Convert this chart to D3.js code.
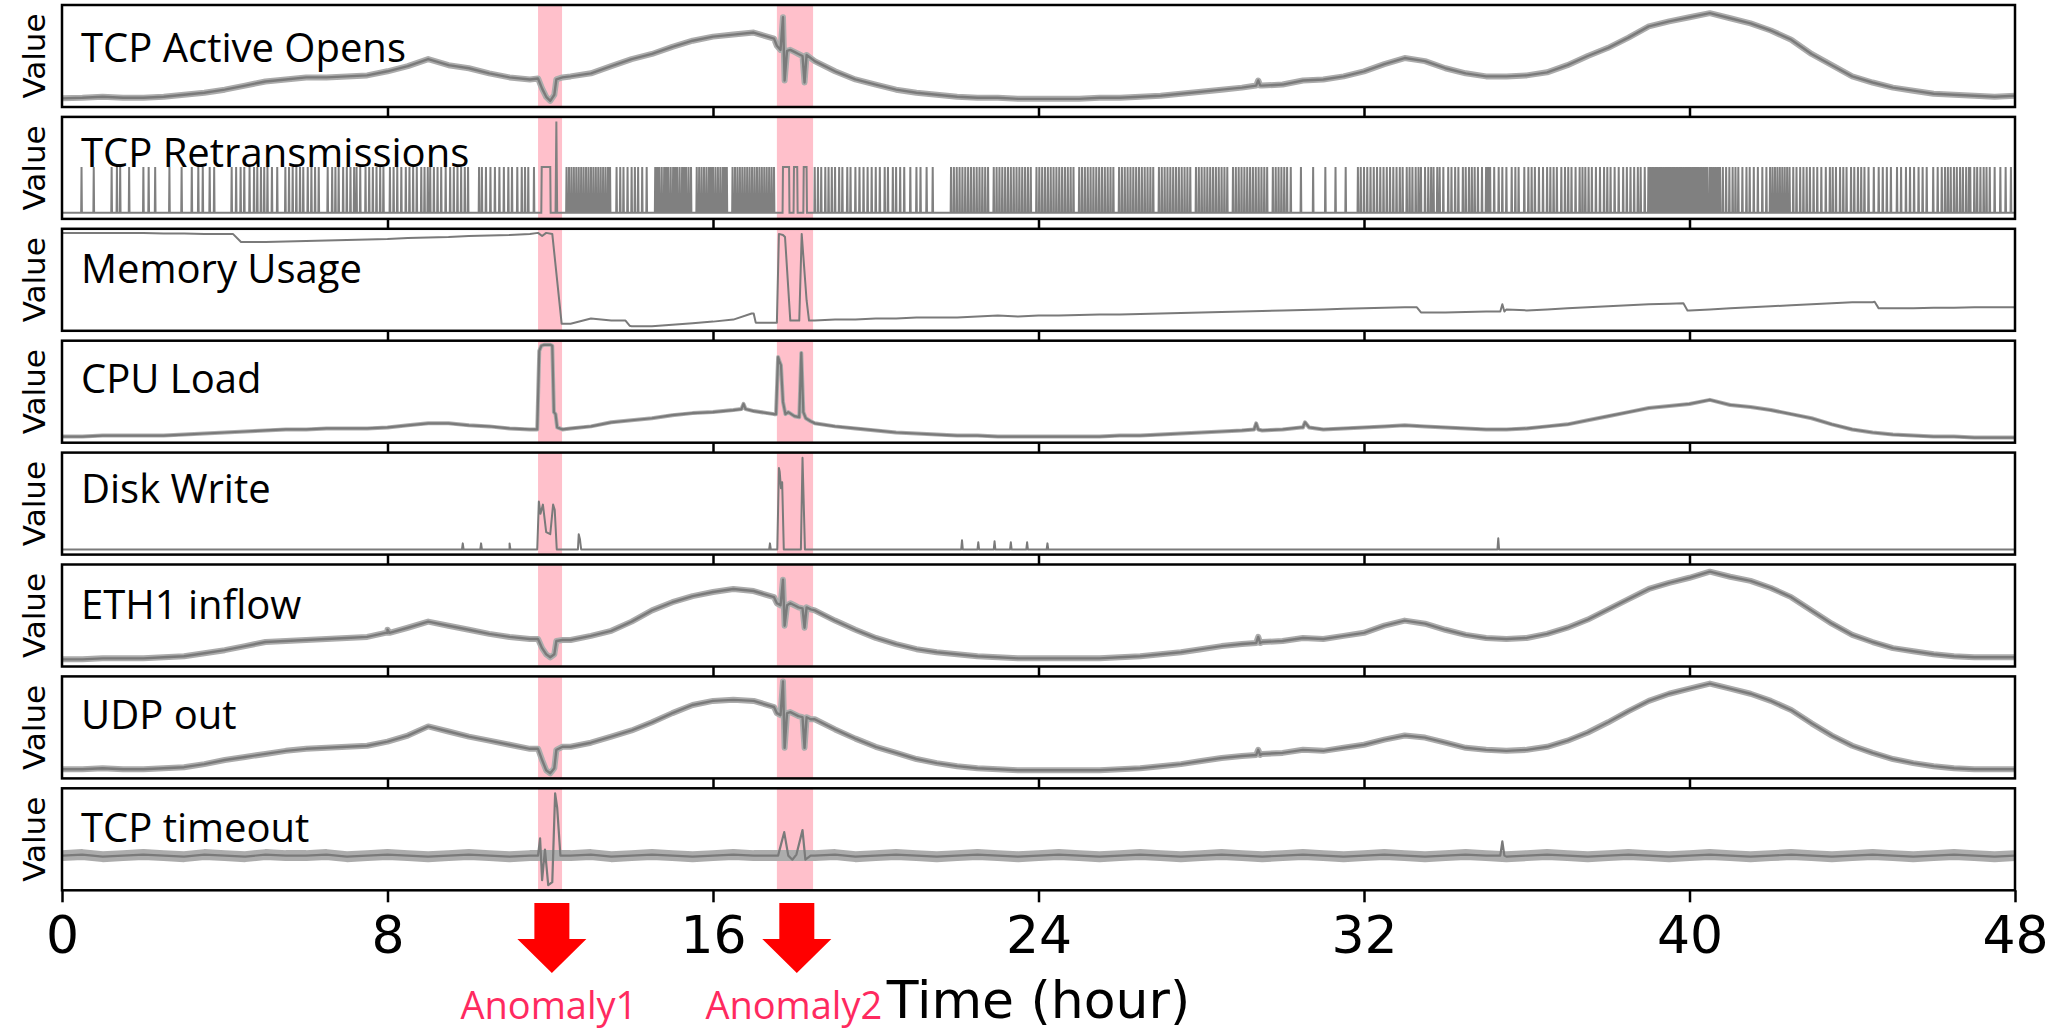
<!DOCTYPE html>
<html lang="en">
<head>
<meta charset="utf-8">
<title>metrics with anomalies</title>
<script src="https://d3js.org/d3.v7.min.js"></script>
<style>
  body { margin: 0; background: #fff; }
  svg { display: block; }
  .title { font-family: "Open Sans", sans-serif; font-size: 40px; fill: #000; }
  .ylab { font-family: "DejaVu Sans", sans-serif; font-size: 31px; fill: #000; }
  .tlab { font-family: "DejaVu Sans", sans-serif; font-size: 52px; fill: #000; }
  .alab { font-family: "Open Sans", sans-serif; font-size: 38px; fill: #ff2a5f; }
</style>
</head>
<body>
<svg id="chart" width="2061" height="1031"></svg>
<script>
// ---- data (values are % of panel height) ----
const hours = d3.range(0, 48.01, 0.5);
const panelNames = ["TCP Active Opens", "TCP Retransmissions", "Memory Usage", "CPU Load",
                    "Disk Write", "ETH1 inflow", "UDP out", "TCP timeout"];
const tickHours = [0, 8, 16, 24, 32, 40, 48];
const anomalyStart = [11.7, 17.57];
const anomalyEnd = [12.29, 18.46];
const arrowAt = [12.04, 18.06];
const anomalyLabels = ["Anomaly1", "Anomaly2"];

const opensBase = [8.5,9,10,9,9,10,12,14,17,21,25,27,29,29,30,31,35,40,47,41,38,33,29,27,null,30,33,40,47,52,59,65,69,71,73,67,null,45,35,27,22,17,14,12,10,9,9,8,8,8,8,9,9,10,11,13,15,17,19,21,22,26,27,30,35,42,48,45,38,33,30,30,31,34,41,50,58,68,79,84,88,92,87,82,75,66,52,41,30,24,19,16,13,12,11,10,11];
const opensEvents = [[11.7,28],[11.8,18],[11.9,10],[12.0,6],[12.1,12],[12.15,27],[12.3,29],
  [17.57,60],[17.66,56],[17.72,88],[17.76,26],[17.82,55],[17.9,56],[18.0,54],[18.1,52],[18.2,50],[18.25,24],[18.3,51],[18.4,48],
  [29.35,21],[29.4,26],[29.45,21]];

const ethBase = [7,7,8,8,8,9,10,13,16,20,24,25,26,27,28,29,33,38,44,40,36,32,29,27,null,26,30,35,44,55,63,69,73,76,74,68,null,55,45,36,28,22,17,14,12,10,9,8,8,8,8,8,9,10,12,14,17,20,22,24,25,28,27,30,33,40,45,42,36,31,28,27,28,32,38,46,56,66,76,82,87,93,88,84,77,68,55,42,31,24,18,15,12,10,9,9,9];
const ethEvents = [[7.95,33],[8.0,36],[8.05,33],[11.7,27],[11.8,18],[11.9,12],[12.0,9],[12.1,12],[12.15,25],[12.3,26],
  [17.57,62],[17.66,60],[17.72,85],[17.76,40],[17.82,60],[17.9,62],[18.0,60],[18.1,58],[18.2,57],[18.25,38],[18.3,58],[18.4,56],
  [29.35,23],[29.4,29],[29.45,23]];

const udpBase = [9,9,10,9,9,10,11,14,18,21,24,27,29,30,31,32,36,42,51,46,41,37,33,29,null,31,35,41,47,55,64,72,76,77,76,70,null,58,48,39,31,25,19,15,12,10,9,8,8,8,8,8,9,10,12,14,17,20,22,24,25,28,27,30,33,38,42,40,35,30,28,27,28,31,37,45,55,66,76,83,88,93,88,83,76,67,54,42,32,25,19,15,12,10,9,9,9];
const udpEvents = [[11.7,29],[11.8,18],[11.9,8],[12.0,5],[12.1,10],[12.15,28],[12.3,31],
  [17.57,64],[17.66,62],[17.72,95],[17.76,30],[17.82,64],[17.9,65],[18.0,63],[18.1,61],[18.2,60],[18.25,30],[18.3,60],[18.4,58],
  [29.35,23],[29.4,28],[29.45,23]];

const cpuBase = [6,6,7,7,7,7,8,9,10,11,12,13,13,14,14,14,15,17,19,19,17,16,14,13,null,14,16,20,22,24,27,29,30,32,31,28,null,19,16,14,12,10,9,8,7,7,6,6,6,6,6,6,7,7,8,9,10,11,12,12,13,15,13,14,15,16,17,16,15,14,13,13,14,16,18,22,26,30,34,36,38,42,37,35,32,28,24,18,13,10,8,7,6,6,5,5,5];
const cpuEvents = [[11.68,13],[11.73,90],[11.78,95],[11.85,96],[12.0,96],[12.05,95],[12.09,30],[12.13,28],[12.17,15],[12.3,13],
  [16.7,33],[16.75,38],[16.8,33],
  [17.55,28],[17.6,84],[17.63,80],[17.67,76],[17.72,40],[17.78,28],[17.85,30],[18.0,26],[18.12,25],[18.17,88],[18.22,30],[18.28,24],[18.4,21],
  [29.3,13],[29.35,19],[29.4,13],[30.45,15],[30.55,20],[30.65,15]];

const memBase = [96,96,96,96,96,95.5,95.5,95,95,87,87,87.5,88,88.5,89,89.5,90,91,91.5,92,93,93.5,94,95,null,7,12,10,4.5,4.5,6,7.5,9,11,17,8,null,10,11,11,12,12,13,13,13,14,15,14,15,15,15.5,16,16,16.5,17,17.5,18,18.5,19,19.5,20,20.5,21,21.5,22,22.5,23,18,18,18.5,19,21,20,21,22,23,24,25,26,26.5,20,21,22,23,24,25,26,27,28,28,22,22,22.5,22.5,23,23,23];
const memEvents = [[4.2,95],[4.4,87],[11.7,96],[11.8,93],[11.9,96],[12.05,95],[12.28,7],[12.35,7],
  [13.85,10],[13.95,5],[16.95,17],[17.05,8],
  [17.57,8],[17.62,95],[17.72,94],[17.77,92],[17.9,10],[18.12,10],[18.18,95],[18.3,30],[18.36,10],
  [33.3,23],[33.4,18],[35.35,19],[35.4,26],[35.45,19],[39.85,27],[39.95,20],[44.55,28.5],[44.65,22]];

const diskBase = [5,5,5,5,5,5,5,5,5,5,5,5,5,5,5,5,5,5,5,5,5,5,5,5,null,5,5,5,5,5,5,5,5,5,5,5,null,5,5,5,5,5,5,5,5,5,5,5,5,5,5,5,5,5,5,5,5,5,5,5,5,5,5,5,5,5,5,5,5,5,5,5,5,5,5,5,5,5,5,5,5,5,5,5,5,5,5,5,5,5,5,5,5,5,5,5,5];
const diskEvents = [[9.83,5],[9.85,11],[9.87,5],[10.28,5],[10.3,11],[10.32,5],[10.98,5],[11.0,11],[11.02,5],
  [11.68,5],[11.72,52],[11.76,40],[11.82,49],[11.9,22],[12.0,20],[12.07,49],[12.11,44],[12.16,5],
  [12.68,5],[12.7,20],[12.73,15],[12.76,5],[17.38,5],[17.4,11],[17.42,5],
  [17.58,5],[17.62,85],[17.64,81],[17.67,65],[17.7,71],[17.74,5],[18.16,5],[18.2,95],[18.26,5],
  [22.1,5],[22.12,14],[22.14,5],[22.5,5],[22.52,12],[22.54,5],[22.9,5],[22.92,13],[22.94,5],[23.3,5],[23.32,12],[23.34,5],[23.7,5],[23.72,12],[23.74,5],[24.2,5],[24.22,11],[24.24,5],
  [35.28,5],[35.3,16],[35.32,5]];

const timeoutBase = [34,35,33,34,35,34,33,35,34,33,35,34,34,35,33,34,35,34,33,34,35,34,33,34,null,34,35,33,34,35,34,33,34,35,34,34,null,34,35,33,34,35,34,33,34,35,34,33,34,35,34,33,34,35,34,33,34,35,34,33,34,35,34,33,34,35,34,33,34,35,34,33,34,35,34,33,34,35,34,33,34,35,34,33,34,35,34,33,34,35,34,33,34,35,34,33,34];
const timeoutEvents = [[11.7,34],[11.75,51],[11.8,10],[11.87,40],[11.95,5],[12.05,8],[12.12,95],[12.17,81],[12.25,34],
  [17.6,34],[17.75,57],[17.85,34],[17.95,30],[18.05,35],[18.2,59],[18.27,30],[18.4,34],[35.35,34],[35.4,48],[35.45,34]];

// TCP retransmissions: hours where the counter jumps to 1
const retransSpikes = [0.48,0.78,1.22,1.35,1.43,1.65,2.0,2.13,2.29,2.64,2.94,3.19,3.35,3.46,3.63,3.74,
  4.17,4.28,4.39,4.48,4.61,4.72,4.8,4.89,4.97,5.05,5.16,5.29,5.49,5.58,5.67,5.76,5.85,5.93,6.04,6.13,6.22,6.31,6.53,6.64,6.72,6.8,
  6.91,7.0,7.09,7.18,7.24,7.33,7.46,7.55,7.64,7.73,7.82,7.9,8.06,8.15,8.24,8.34,8.45,8.54,8.63,8.72,8.83,8.91,8.99,
  9.05,9.14,9.23,9.32,9.43,9.54,9.63,9.72,9.81,9.9,9.98,10.25,10.32,10.42,10.53,10.64,10.75,10.86,10.97,11.06,11.19,11.3,11.38,11.46,11.6,
  12.4,12.46,12.52,12.58,12.64,12.7,12.76,12.82,12.88,12.94,13.0,13.06,13.12,13.18,13.24,13.3,13.36,13.42,13.47,
  13.63,13.72,13.8,13.9,14.0,14.08,14.16,14.26,14.37,
  14.58,14.63,14.68,14.74,14.8,14.85,14.9,14.96,15.02,15.07,15.12,15.18,15.24,15.29,15.34,15.4,15.46,15.6,15.66,15.72,15.78,15.84,15.9,15.95,
  16.0,16.06,16.12,16.18,16.24,16.29,16.34,16.48,16.54,16.6,16.66,16.72,16.78,16.84,16.9,16.96,17.02,17.08,17.14,17.2,17.26,17.32,17.38,17.44,17.5,
  18.5,18.58,18.66,18.76,18.84,18.92,19.0,19.1,19.18,19.3,19.38,19.5,19.6,19.7,19.8,19.9,20.0,20.1,20.22,20.3,20.42,20.5,20.6,
  20.7,20.85,21.0,21.1,21.25,21.4,
  21.85,21.92,21.99,22.06,22.13,22.2,22.27,22.34,22.41,22.48,22.55,22.62,22.69,22.76,22.9,22.97,23.04,23.11,23.18,23.25,23.32,23.39,23.46,23.53,23.6,23.67,23.74,23.81,
  23.95,24.02,24.09,24.16,24.23,24.3,24.37,24.44,24.51,24.58,24.65,24.72,24.79,24.86,25.0,25.07,25.14,25.21,25.28,25.35,25.42,25.49,25.56,25.63,25.7,25.77,25.84,
  25.98,26.05,26.12,26.19,26.26,26.33,26.4,26.47,26.54,26.61,26.68,26.75,26.82,26.96,27.03,27.1,27.17,27.24,27.31,27.38,27.45,27.52,27.59,27.66,27.73,
  27.87,27.94,28.01,28.08,28.15,28.22,28.29,28.36,28.43,28.5,28.57,28.64,28.78,28.85,28.92,28.99,29.06,29.13,29.2,29.27,29.34,29.41,29.48,29.55,29.62,
  29.76,29.83,29.9,29.97,30.04,30.11,30.2,30.45,30.75,31.05,31.3,31.55,
  31.85,31.92,32.0,32.08,32.16,32.24,32.32,32.4,32.48,32.56,32.64,32.72,32.8,
  32.88,32.95,33.05,33.12,33.19,33.27,33.34,33.4,33.5,33.58,33.65,33.71,33.8,33.86,33.95,34.07,34.15,34.24,34.32,34.43,34.5,34.58,34.65,34.72,34.8,34.9,
  35.0,35.05,35.1,35.2,35.31,35.4,35.5,35.63,35.72,35.8,35.94,36.04,36.12,36.2,36.3,36.4,36.5,36.58,36.66,36.74,36.85,36.94,
  37.02,37.1,37.2,37.3,37.37,37.44,37.52,37.6,37.7,37.8,37.9,37.98,38.06,38.16,38.26,38.37,38.46,38.55,38.64,38.73,38.8,38.9,
  38.99,39.03,39.08,39.12,39.17,39.21,39.26,39.3,39.35,39.4,39.44,39.49,39.53,39.58,39.62,39.67,39.71,39.76,39.8,39.85,39.9,39.94,39.99,
  40.03,40.08,40.12,40.17,40.21,40.26,40.3,40.35,40.4,40.44,40.5,40.55,40.6,40.65,40.7,40.75,40.82,40.9,40.98,41.06,41.13,41.2,41.3,41.4,41.48,41.58,41.68,41.79,41.89,41.98,
  42.04,42.1,42.16,42.22,42.28,42.34,42.4,42.46,42.55,42.63,42.72,42.8,42.88,42.96,43.05,43.14,43.24,43.35,43.45,43.52,43.6,43.7,43.78,43.86,43.97,
  44.05,44.14,44.22,44.3,44.4,44.53,44.65,44.75,44.85,44.95,45.1,45.2,45.32,45.42,45.52,45.63,45.73,45.83,45.99,46.1,46.2,46.28,
  46.35,46.42,46.5,46.57,46.65,46.72,46.8,46.87,46.9,47.0,47.07,47.15,47.23,47.3,47.38,47.5,47.64,47.77,47.9];
const retransBoxes = [[11.79,12.0],[17.72,17.87],[17.99,18.07],[18.23,18.3]];
const retransTall = [12.15];

// ---- layout ----
const svg = d3.select("#chart");
const x = d3.scaleLinear().domain([0, 48]).range([62, 2015]);
const panelTop = i => 5 + i * 111.9;
const panelH = 102;
const titleDy = [57, 50, 54, 52, 50, 54, 53, 54];

function merge(base, events) {
  const pts = [];
  base.forEach((v, i) => { if (v !== null) pts.push([hours[i], v]); });
  events.forEach(e => pts.push(e));
  return pts.sort((a, b) => a[0] - b[0]);
}

// fuzz = width of the light underlay that stands in for the sampling noise
const seriesList = [
  { pts: merge(opensBase, opensEvents), w: 2.4, fuzz: 6 },
  null,
  { pts: merge(memBase, memEvents), w: 2, fuzz: 0 },
  { pts: merge(cpuBase, cpuEvents), w: 2.2, fuzz: 4 },
  { pts: merge(diskBase, diskEvents), w: 2, fuzz: 0 },
  { pts: merge(ethBase, ethEvents), w: 2.4, fuzz: 6 },
  { pts: merge(udpBase, udpEvents), w: 2.4, fuzz: 6 },
  { pts: merge(timeoutBase, timeoutEvents), w: 2.2, fuzz: 11, under: merge(timeoutBase, []) }
];

panelNames.forEach((name, i) => {
  const top = panelTop(i), bot = top + panelH;
  const g = svg.append("g");
  const y = d3.scaleLinear().domain([0, 100]).range([bot, top]);

  // anomaly bands
  anomalyStart.forEach((s, k) => {
    g.append("rect").attr("x", x(s)).attr("y", top)
      .attr("width", x(anomalyEnd[k]) - x(s)).attr("height", panelH)
      .attr("fill", "#ffc0cb");
  });

  if (i === 1) {
    const yr = d3.scaleLinear().domain([-0.135, 2.1]).range([bot, top]);
    const pts = [[0, 0]];
    retransSpikes.forEach(t => { pts.push([t - 0.009, 0], [t, 1], [t + 0.009, 0]); });
    retransBoxes.forEach(b => { pts.push([b[0] - 0.01, 0], [b[0], 1], [b[1], 1], [b[1] + 0.01, 0]); });
    retransTall.forEach(t => { pts.push([t - 0.02, 0], [t, 2], [t + 0.02, 0]); });
    pts.push([48, 0]);
    pts.sort((a, b) => a[0] - b[0]);
    g.append("path").datum(pts)
      .attr("d", d3.line().x(d => x(d[0])).y(d => yr(d[1])))
      .attr("fill", "none").attr("stroke", "#808080").attr("stroke-width", 2);
  } else {
    const s = seriesList[i];
    const line = d3.line().x(d => x(d[0])).y(d => y(d[1]));
    if (s.fuzz) {
      g.append("path").datum(s.under || s.pts).attr("d", line)
        .attr("fill", "none").attr("stroke", "#acacac")
        .attr("stroke-width", s.fuzz).attr("stroke-linejoin", "round");
    }
    g.append("path").datum(s.pts).attr("d", line)
      .attr("fill", "none").attr("stroke", "#7a7a7a")
      .attr("stroke-width", s.w).attr("stroke-linejoin", "round");
  }

  // frame
  g.append("rect").attr("x", x(0)).attr("y", top).attr("width", x(48) - x(0)).attr("height", panelH)
    .attr("fill", "none").attr("stroke", "#000").attr("stroke-width", 2.5);

  // ticks below panel
  const last = i === panelNames.length - 1;
  const ax = d3.axisBottom(x).tickValues(last ? tickHours : tickHours.slice(1, -1))
    .tickSize(last ? 12 : 10).tickFormat(last ? d3.format("d") : "");
  const axg = g.append("g").attr("transform", `translate(0,${bot})`).call(ax);
  axg.select(".domain").remove();
  axg.selectAll(".tick line").attr("stroke", "#000").attr("stroke-width", 2.5);
  axg.selectAll(".tick text").attr("class", "tlab").attr("dy", null).attr("y", 63)
    .attr("font-family", null).attr("font-size", null);

  g.append("text").attr("class", "title").attr("x", 81).attr("y", top + titleDy[i]).text(name);
  g.append("text").attr("class", "ylab").attr("text-anchor", "middle")
    .attr("transform", `translate(45,${top + panelH / 2}) rotate(-90)`).text("Value");
});

// x axis title
svg.append("text").attr("class", "tlab").attr("text-anchor", "middle")
  .attr("x", (x(0) + x(48)) / 2).attr("y", 1018).text("Time (hour)");

// anomaly arrows and labels
const arrow = d3.line()([[-17.5, 0], [17.5, 0], [17.5, 36], [34.5, 36], [0, 70], [-34.5, 36], [-17.5, 36]]) + "Z";
arrowAt.forEach((h, k) => {
  svg.append("path").attr("d", arrow).attr("transform", `translate(${x(h)},903)`).attr("fill", "#ff0000");
  svg.append("text").attr("class", "alab").attr("text-anchor", "middle")
    .attr("x", x(h) - 3).attr("y", 1019).text(anomalyLabels[k]);
});
</script>
</body>
</html>
